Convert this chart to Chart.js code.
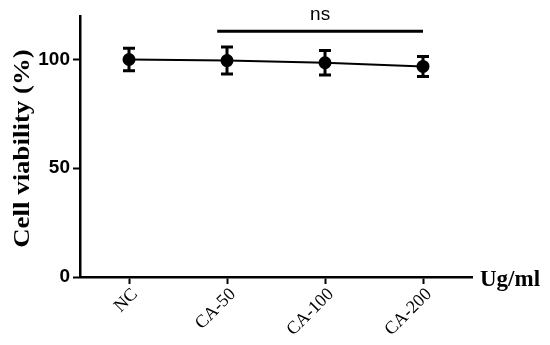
<!DOCTYPE html>
<html>
<head>
<meta charset="utf-8">
<script src="https://cdn.jsdelivr.net/npm/chart.js@4/dist/chart.umd.min.js"></script>
<style>
  html, body { margin: 0; padding: 0; background: #fff; }
  #wrap { width: 550px; height: 345px; position: relative; }
</style>
</head>
<body>
<div id="wrap"><canvas id="viability-chart"></canvas></div>
<script>
const groups = ['NC', 'CA-50', 'CA-100', 'CA-200'];
const viability = [100, 99.5, 98.5, 96.8];
const viabilityErr = [5.2, 6.2, 5.6, 4.6];
const yTicks = [0, 50, 100];
const sigFrom = 0.9;
const sigTo = 3;
const sigLevel = 113;
const sigLabel = 'ns';
const unitLabel = 'Ug/ml';
const yTitle = 'Cell viability (%)';

const errorBars = {
    id: 'errorBars',
    afterDatasetsDraw(chart) {
        const { ctx, scales: { x, y } } = chart;
        ctx.save();
        ctx.strokeStyle = '#000';
        ctx.lineWidth = 3;
        viability.forEach((v, i) => {
            const px = x.getPixelForValue(i);
            const top = y.getPixelForValue(v + viabilityErr[i]);
            const bot = y.getPixelForValue(v - viabilityErr[i]);
            ctx.beginPath();
            ctx.moveTo(px, top);
            ctx.lineTo(px, bot);
            ctx.moveTo(px - 6, top);
            ctx.lineTo(px + 6, top);
            ctx.moveTo(px - 6, bot);
            ctx.lineTo(px + 6, bot);
            ctx.stroke();
        });
        ctx.restore();
    }
};

// significance bar, unit label and the (slightly stretched) y title
const annotations = {
    id: 'annotations',
    afterDraw(chart) {
        const { ctx, scales: { x, y }, chartArea } = chart;
        const x1 = x.getPixelForValue(sigFrom);
        const x2 = x.getPixelForValue(sigTo);
        const by = y.getPixelForValue(sigLevel);
        ctx.save();
        ctx.strokeStyle = '#000';
        ctx.lineWidth = 3;
        ctx.beginPath();
        ctx.moveTo(x1, by);
        ctx.lineTo(x2, by);
        ctx.stroke();
        ctx.fillStyle = '#000';
        ctx.font = '19px "Liberation Sans", Arial, sans-serif';
        ctx.textAlign = 'center';
        ctx.textBaseline = 'bottom';
        ctx.fillText(sigLabel, (x1 + x2) / 2, by - 7);
        ctx.font = 'bold 23px "Liberation Serif", "Times New Roman", serif';
        ctx.textAlign = 'left';
        ctx.textBaseline = 'middle';
        ctx.fillText(unitLabel, chartArea.right + 8, y.getPixelForValue(0) + 3);

        ctx.translate(23, (chartArea.top + chartArea.bottom) / 2 + 2);
        ctx.rotate(-Math.PI / 2);
        ctx.scale(1.12, 1);
        ctx.font = 'bold 24px "Liberation Serif", "Times New Roman", serif';
        ctx.textAlign = 'center';
        ctx.textBaseline = 'middle';
        ctx.fillText(yTitle, 0, 0);
        ctx.restore();
    }
};

new Chart(document.getElementById('viability-chart'), {
    type: 'line',
    data: {
        labels: groups,
        datasets: [{
            data: viability,
            borderColor: '#000',
            backgroundColor: '#000',
            borderWidth: 2,
            pointRadius: 5.5,
            pointHoverRadius: 5.5,
            tension: 0
        }]
    },
    options: {
        responsive: true,
        maintainAspectRatio: false,
        animation: false,
        layout: { padding: { top: 16, right: 78, left: 0, bottom: 0 } },
        plugins: {
            legend: { display: false },
            tooltip: { enabled: false }
        },
        scales: {
            x: {
                type: 'category',
                offset: true,
                border: { display: true, color: '#000', width: 2.5 },
                grid: { drawOnChartArea: false, drawTicks: true, tickLength: 7, tickWidth: 2, tickColor: '#000' },
                ticks: {
                    color: '#000',
                    minRotation: 45,
                    maxRotation: 45,
                    padding: 0,
                    labelOffset: 6,
                    font: { family: '"Liberation Serif", "Times New Roman", serif', size: 18 }
                },
                afterFit(scale) { scale.height = 68; }
            },
            y: {
                min: 0,
                max: 120,
                border: { display: true, color: '#000', width: 2.5 },
                grid: { drawOnChartArea: false, drawTicks: true, tickLength: 7, tickWidth: 2, tickColor: '#000' },
                afterBuildTicks(scale) { scale.ticks = yTicks.map(v => ({ value: v })); },
                ticks: {
                    color: '#000',
                    padding: 3,
                    font: { family: '"Liberation Sans", Arial, sans-serif', size: 19, weight: 'bold' }
                },
                afterFit(scale) { scale.width = 80; }
            }
        }
    },
    plugins: [errorBars, annotations]
});
</script>
</body>
</html>
